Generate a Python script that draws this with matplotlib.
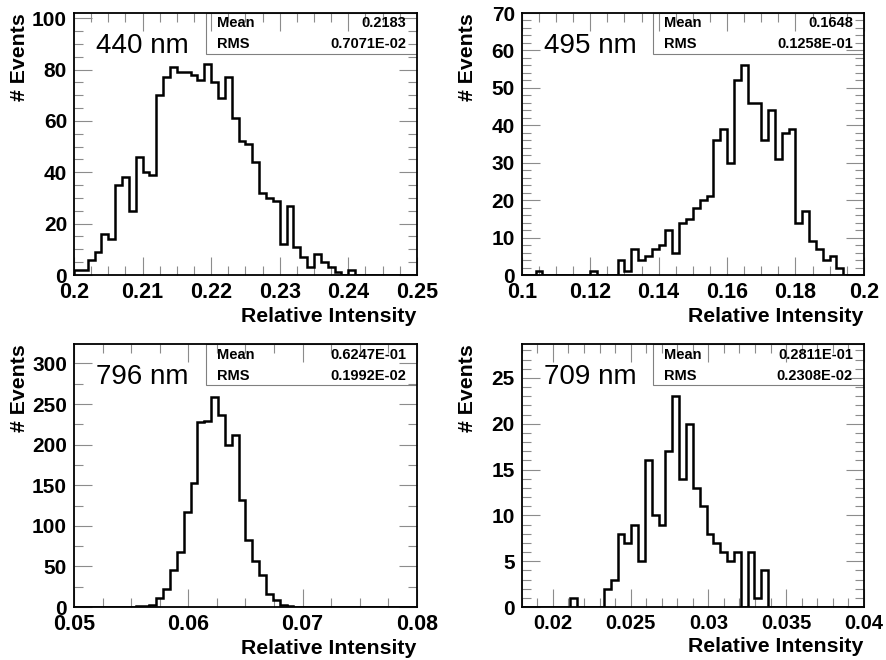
import numpy as np
import matplotlib
matplotlib.use('Agg')
import matplotlib.pyplot as plt
from matplotlib.patches import Rectangle
from matplotlib.ticker import MultipleLocator, FormatStrFormatter

plt.rcParams['font.family'] = ['Liberation Sans', 'DejaVu Sans']

# bin contents, 50 equal bins per histogram
counts_440 = [2, 2, 6, 9, 16, 14, 35, 38, 25, 46,
              40, 39, 70, 77, 81, 79, 79, 78, 76, 82,
              75, 69, 77, 61, 52, 51, 44, 32, 30, 29,
              12, 27, 11, 7, 3, 8, 5, 3, 1, 0,
              2, 0, 0, 0, 0, 0, 0, 0, 0, 0]
counts_495 = [0, 0, 1, 0, 0, 0, 0, 0, 0, 0,
              1, 0, 0, 0, 4, 1, 7, 4, 5, 7,
              8, 12, 6, 14, 15, 18, 20, 21, 36, 39,
              30, 52, 56, 46, 46, 36, 44, 31, 38, 39,
              14, 17, 9, 7, 4, 5, 2, 0, 0, 0]
counts_796 = [0, 0, 0, 0, 0, 0, 0, 0, 0, 1,
              1, 3, 11, 22, 45, 68, 117, 153, 228, 229,
              259, 236, 199, 212, 132, 82, 57, 40, 16, 9,
              2, 1, 0, 0, 0, 0, 0, 0, 0, 0,
              0, 0, 0, 0, 0, 0, 0, 0, 0, 0]
counts_709 = [0, 0, 0, 0, 0, 0, 0, 1, 0, 0,
              0, 0, 2, 3, 8, 7, 9, 5, 16, 10,
              9, 17, 23, 14, 20, 13, 11, 8, 7, 6,
              5, 6, 0, 6, 1, 4, 0, 0, 0, 0,
              0, 0, 0, 0, 0, 0, 0, 0, 0, 0]

labels = ['440 nm', '495 nm', '796 nm', '709 nm']
x_lo = [0.2, 0.1, 0.05, 0.018]
x_hi = [0.25, 0.2, 0.08, 0.04]
y_top = [102, 70, 324, 28.7]
means = ['0.2183', '0.1648', '0.6247E-01', '0.2811E-01']
rms = ['0.7071E-02', '0.1258E-01', '0.1992E-02', '0.2308E-02']
x_major = [0.01, 0.02, 0.01, 0.005]
x_minor = [0.0025, 0.005, 0.0025, 0.001]
y_major = [20, 10, 50, 5]
y_minor = [5, 2, 25, 1]
xtick_size = [15.5, 15.5, 15.5, 14.5]

all_counts = [counts_440, counts_495, counts_796, counts_709]

fig = plt.figure(figsize=(8.86, 6.6), dpi=100)
positions = [
    [0.0835, 0.5833, 0.387, 0.397],
    [0.589, 0.5833, 0.386, 0.397],
    [0.0835, 0.0803, 0.387, 0.3985],
    [0.589, 0.0803, 0.386, 0.3985],
]

for i in range(4):
    ax = fig.add_axes(positions[i])
    edges = np.linspace(x_lo[i], x_hi[i], len(all_counts[i]) + 1)
    ax.stairs(all_counts[i], edges, color='black', linewidth=1.8, zorder=2)
    ax.set_xlim(x_lo[i], x_hi[i])
    ax.set_ylim(0, y_top[i])

    ax.xaxis.set_major_locator(MultipleLocator(x_major[i]))
    ax.xaxis.set_minor_locator(MultipleLocator(x_minor[i]))
    ax.yaxis.set_major_locator(MultipleLocator(y_major[i]))
    ax.yaxis.set_minor_locator(MultipleLocator(y_minor[i]))
    ax.xaxis.set_major_formatter(FormatStrFormatter('%g'))
    ax.tick_params(which='both', direction='in', top=True, right=True,
                   color='0.55', width=0.8)
    ax.tick_params(which='major', length=13)
    ax.tick_params(which='minor', length=6.5)
    ax.tick_params(axis='x', labelsize=xtick_size[i], pad=5)
    ax.tick_params(axis='y', labelsize=15, pad=5)
    for lab in ax.get_xticklabels() + ax.get_yticklabels():
        lab.set_fontweight('bold')
    for sp in ax.spines.values():
        sp.set_linewidth(1.3)

    ax.set_xlabel('Relative Intensity', fontsize=15.3, fontweight='bold',
                  loc='right', labelpad=3)
    ax.set_ylabel('# Events', fontsize=15.3, fontweight='bold', loc='top')
    ax.yaxis.set_label_coords(-0.132, 1.0)

    ax.text(0.064, 0.874, labels[i], transform=ax.transAxes, fontsize=20,
            ha='left', va='center')

    # stats box
    box = Rectangle((0.384, 0.843), 0.616, 0.157, transform=ax.transAxes,
                    facecolor='white', edgecolor='0.5', linewidth=0.8,
                    zorder=1.5)
    ax.add_patch(box)
    ax.text(0.416, 0.96, 'Mean', transform=ax.transAxes, fontsize=10.5,
            fontweight='bold', ha='left', va='center', zorder=3)
    ax.text(0.968, 0.96, means[i], transform=ax.transAxes, fontsize=10.5,
            fontweight='bold', ha='right', va='center', zorder=3)
    ax.text(0.416, 0.88, 'RMS', transform=ax.transAxes, fontsize=10.5,
            fontweight='bold', ha='left', va='center', zorder=3)
    ax.text(0.968, 0.88, rms[i], transform=ax.transAxes, fontsize=10.5,
            fontweight='bold', ha='right', va='center', zorder=3)

fig.savefig('out.png', dpi=100)
